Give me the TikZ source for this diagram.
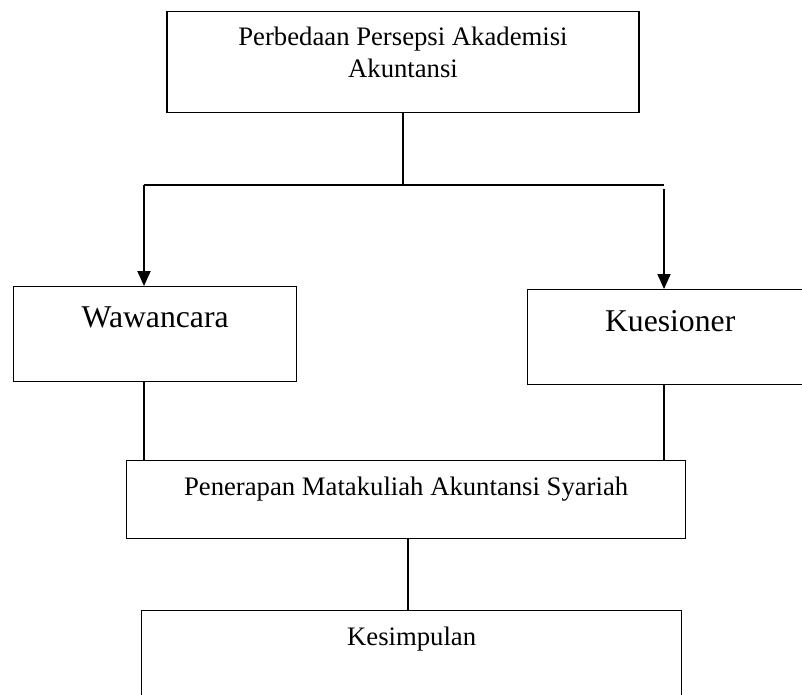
\documentclass[tikz,border=0pt]{standalone}
\usepackage{fontspec}
\setmainfont{Liberation Serif}
\usetikzlibrary{arrows.meta,calc}
\tikzset{
    kotak/.style={draw, line width=1.3pt, rectangle, inner sep=0pt, align=center,
        font=\fontsize{26.7}{32}\selectfont},
    besar/.style={font=\fontsize{31.7}{38}\selectfont},
    garis/.style={line width=1.2pt},
    panah/.style={line width=2pt, -{Triangle[width=13pt,length=15pt]}}
}
\begin{document}
\begin{tikzpicture}[x=1pt,y=-1pt]
                % \helpgrid{3}{3}
                \useasboundingbox (0,0) rectangle (802,695);
                \clip (0,0) rectangle (802,695);

                \node[kotak, minimum width=472pt, text height=66pt, text depth=35pt] (top) at (403,11) [anchor=north] {Perbedaan Persepsi Akademisi\\Akuntansi};
                \node[kotak, besar, minimum width=283pt, text height=41pt, text depth=54pt] (wawancara) at (13,286) [anchor=north west] {Wawancara};
                \node[kotak, besar, minimum width=285pt, text height=42pt, text depth=53pt] (kuesioner) at (527,289) [anchor=north west] {Kuesioner};
                \node[kotak, minimum width=559pt, text height=35pt, text depth=43pt] (penerapan) at (126,460) [anchor=north west] {Penerapan Matakuliah Akuntansi Syariah};
                \node[kotak, minimum width=540pt, text height=35pt, text depth=60pt] (kesimpulan) at (141,610) [anchor=north west] {Kesimpulan};

                \coordinate (cabangL) at (144,185);
                \coordinate (cabangR) at (664,185);
                \coordinate (turun) at (408,0);

                \draw[garis] (top.south) -- (top.south |- cabangL);
                \draw[garis] (cabangL) -- (cabangR);
                \draw[panah] (cabangL) -- (cabangL |- wawancara.north);
                \draw[panah] ($(cabangR)+(0,4)$) -- (cabangR |- kuesioner.north);

                \draw[garis] (cabangL |- wawancara.south) -- (cabangL |- penerapan.north);
                \draw[garis] (cabangR |- kuesioner.south) -- (cabangR |- penerapan.north);
                \draw[line width=2pt] (turun |- penerapan.south) -- (turun |- kesimpulan.north);
\end{tikzpicture}
\end{document}
